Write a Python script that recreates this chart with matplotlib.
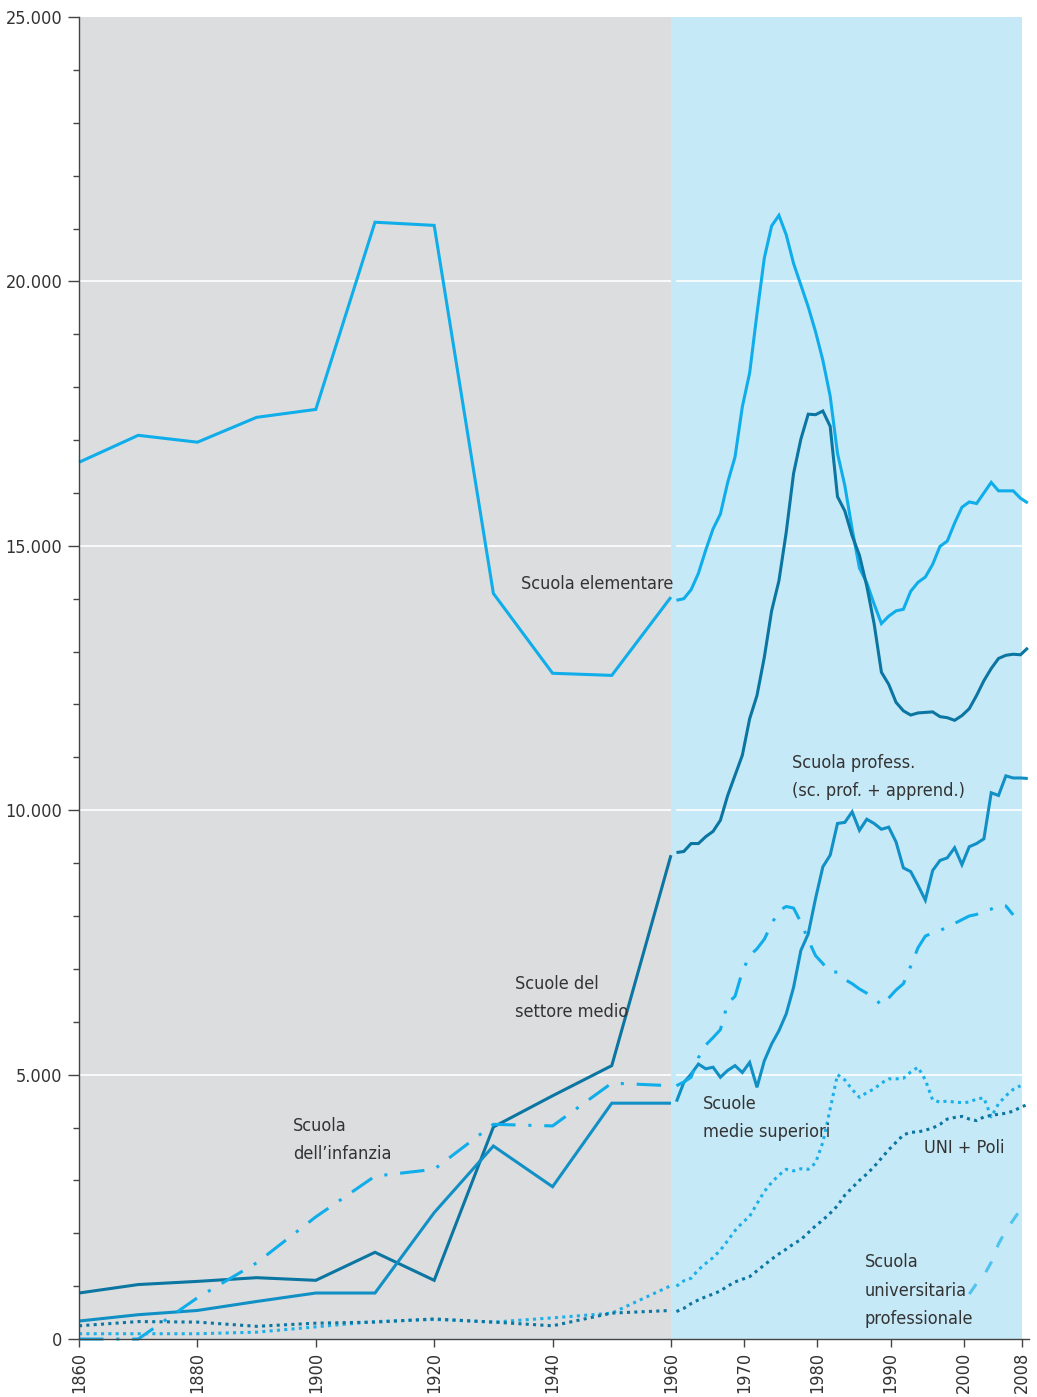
import numpy as np
import matplotlib.pyplot as plt
import matplotlib.font_manager as fm
from matplotlib.ticker import FixedLocator, FuncFormatter

# --- data -------------------------------------------------------------
# historic part: one value every ten years
YEARS_HIST = [1860, 1870, 1880, 1890, 1900, 1910, 1920, 1930, 1940, 1950, 1960]

elem_hist = [16580, 17090, 16960, 17430, 17580, 21120, 21060, 14100, 12590, 12550, 14030]
medio_hist = [870, 1030, 1090, 1160, 1110, 1640, 1110, 4010, 4600, 5170, 9150]
prof_hist = [340, 460, 540, 710, 870, 870, 2390, 3650, 2880, 4460, 4460]
infanzia_hist = [0, 0, 780, 1440, 2310, 3080, 3210, 4060, 4030, 4840, 4790]
medsup_hist = [100, 100, 100, 130, 230, 330, 370, 320, 400, 490, 1010]
uni_hist = [250, 330, 320, 240, 300, 320, 380, 320, 250, 490, 540]

# recent part: yearly values 1960-2008
YEARS_RECENT = list(range(1960, 2009))

elem_recent = [13970, 14000, 14170, 14480, 14920, 15320, 15600, 16200, 16680, 17630,
               18270, 19390, 20440, 21050, 21250, 20880, 20340, 19930, 19520, 19050,
               18510, 17830, 16750, 16140, 15320, 14580, 14300, 13900, 13530, 13670,
               13770, 13800, 14140, 14310, 14410, 14650, 14990, 15090, 15430, 15730,
               15830, 15800, 16000, 16200, 16040, 16040, 16040, 15900, 15810]
medio_recent = [9200, 9220, 9370, 9370, 9500, 9600, 9810, 10280, 10660, 11040,
                11730, 12170, 12890, 13770, 14340, 15260, 16370, 17020, 17490, 17480,
                17550, 17260, 15930, 15660, 15190, 14820, 14240, 13530, 12610, 12380,
                12040, 11880, 11800, 11840, 11850, 11860, 11770, 11750, 11700, 11790,
                11920, 12170, 12450, 12680, 12870, 12930, 12950, 12940, 13070]
prof_recent = [4490, 4850, 5010, 5200, 5110, 5140, 4950, 5080, 5170, 5040,
               5230, 4760, 5260, 5580, 5830, 6150, 6650, 7350, 7660, 8330,
               8930, 9150, 9750, 9770, 9970, 9620, 9830, 9750, 9640, 9680,
               9400, 8910, 8840, 8580, 8300, 8860, 9050, 9100, 9290, 8970,
               9310, 9370, 9460, 10330, 10280, 10650, 10610, 10610, 10600]
infanzia_recent = [4790, 4860, 4950, 5320, 5560, 5700, 5850, 6350, 6480, 6950,
                   7250, 7380, 7560, 7850, 8100, 8180, 8150, 7880, 7550, 7250,
                   7100, 6940, 6940, 6800, 6720, 6620, 6540, 6460, 6310, 6450,
                   6600, 6720, 7050, 7400, 7620, 7680, 7720, 7800, 7860, 7930,
                   8000, 8030, 8100, 8130, 8200, 8190, 8020]
medsup_recent = [1000, 1100, 1150, 1310, 1430, 1540, 1680, 1860, 2050, 2200,
                 2320, 2560, 2790, 2960, 3100, 3210, 3180, 3220, 3210, 3330,
                 3720, 4350, 5000, 4900, 4720, 4570, 4660, 4730, 4840, 4920,
                 4920, 4930, 5050, 5140, 4900, 4520, 4480, 4500, 4480, 4470,
                 4480, 4540, 4560, 4200, 4450, 4600, 4720, 4790]
uni_recent = [520, 580, 670, 740, 800, 850, 910, 1000, 1080, 1130,
              1180, 1290, 1400, 1510, 1610, 1700, 1800, 1880, 2010, 2140,
              2250, 2380, 2520, 2720, 2860, 3000, 3120, 3260, 3420, 3580,
              3720, 3860, 3910, 3915, 3950, 3990, 4060, 4160, 4190, 4210,
              4160, 4130, 4200, 4230, 4250, 4270, 4310, 4380, 4440]
YEARS_SUP = list(range(2000, 2008))
sup_recent = [850, 1050, 1200, 1450, 1800, 2050, 2250, 2450]

X_TICKS = [1860, 1880, 1900, 1920, 1940, 1960, 1970, 1980, 1990, 2000, 2008]

# --- style ------------------------------------------------------------
C_LIGHT = '#0fadea'
C_MED = '#1190c5'
C_DARK = '#0a76a1'
C_DOT_LIGHT = '#1cb0e8'
C_SUP = '#4fc3ef'
BG_HIST = '#dcdddf'
BG_RECENT = '#c6e9f8'
TXT = '#333333'
LW = 2.2
OFFSET = 0.75  # yearly values are drawn a bit right of the 1960 break


# a narrow face if one is installed (original uses a condensed grotesque)
def pick_font():
    cands = []
    for f in fm.fontManager.ttflist:
        n = f.name
        if 'Narrow' in n or 'Condensed' in n or f.stretch in ('condensed', 'semi-condensed'):
            if 'Bold' in f.fname or 'Oblique' in f.fname or 'Italic' in f.fname:
                continue
            if f.weight not in (400, 'normal', 'regular', 300, 'light'):
                continue
            cands.append(f)
    if cands:
        cands.sort(key=lambda f: (0 if 'Liberation' in f.name else 1, f.fname))
        return fm.FontProperties(fname=cands[0].fname)
    return fm.FontProperties(family='Roboto')

FP = pick_font()


# broken time axis: 1860-1960 compressed, 1960-2008 stretched
K = 1.2366
def fwd(x):
    x = np.asarray(x, dtype=float)
    return np.where(x <= 1960, x - 1860, 100 + (x - 1960) * K)

def inv(u):
    u = np.asarray(u, dtype=float)
    return np.where(u <= 100, u + 1860, 1960 + (u - 100) / K)


fig = plt.figure(figsize=(10.37, 13.97), dpi=100)
ax = fig.add_axes([0.0762, 0.0415, 0.916, 0.9463])
ax.set_xscale('function', functions=(fwd, inv))
ax.set_xlim(1860, 2008.9)
ax.set_ylim(0, 25000)

ax.axvspan(1860, 1960, color=BG_HIST, lw=0, zorder=0)
ax.axvspan(1960, 2008, color=BG_RECENT, lw=0, zorder=0)
for yv in [5000, 10000, 15000, 20000]:
    ax.hlines(yv, 1860, 1960, color='white', lw=1.2, zorder=1)
    ax.hlines(yv, 1960.7, 2008, color='white', lw=1.2, zorder=1)

yr_r = np.array(YEARS_RECENT) + OFFSET

def draw(xh, yh, xr, yr, color, dashes=None, lw=LW):
    for xx, yy in [(xh, yh), (xr, yr)]:
        ln, = ax.plot(xx, yy, color=color, lw=lw, zorder=3, clip_on=False,
                      solid_joinstyle='miter', solid_capstyle='butt')
        if dashes is not None:
            ln.set_dashes(dashes)

draw(YEARS_HIST, elem_hist, yr_r, elem_recent, C_LIGHT)
draw(YEARS_HIST, medio_hist, yr_r, medio_recent, C_DARK)
draw(YEARS_HIST, prof_hist, yr_r, prof_recent, C_MED)
draw(YEARS_HIST, infanzia_hist, yr_r[:len(infanzia_recent)], infanzia_recent,
     C_LIGHT, dashes=(8, 4.2, 1, 4.2))
draw(YEARS_HIST, medsup_hist, yr_r[:len(medsup_recent)], medsup_recent,
     C_DOT_LIGHT, dashes=(1, 1.4))
draw(YEARS_HIST, uni_hist, yr_r, uni_recent, C_DARK, dashes=(1, 1.4))
ln, = ax.plot(np.array(YEARS_SUP) + OFFSET, sup_recent, color=C_SUP, lw=LW, zorder=3)
ln.set_dashes((4, 5))

# labels
lab = dict(color=TXT, fontproperties=FP, va='center', ha='left', linespacing=1.75, zorder=4)
def label(x, y, s):
    t = ax.text(x, y, s, **lab)
    t.set_fontsize(13)

label(1934.7, 14280, 'Scuola elementare')
label(1933.7, 6450, 'Scuole del\nsettore medio')
label(1896.1, 3760, 'Scuola\ndell\u2019infanzia')
label(1976.6, 10630, 'Scuola profess.\n(sc. prof. + apprend.)')
label(1964.4, 4180, 'Scuole\nmedie superiori')
label(1994.5, 3610, 'UNI + Poli')
label(1986.5, 910, 'Scuola\nuniversitaria\nprofessionale')

# axes
for s in ['top', 'right']:
    ax.spines[s].set_visible(False)
for s in ['left', 'bottom']:
    ax.spines[s].set_color('#444444')
    ax.spines[s].set_linewidth(1.0)
    ax.spines[s].set_zorder(5)

ax.yaxis.set_major_locator(FixedLocator(range(0, 25001, 5000)))
ax.yaxis.set_minor_locator(FixedLocator(range(0, 25001, 1000)))
ax.yaxis.set_major_formatter(FuncFormatter(lambda v, p: f'{int(v):,}'.replace(',', '.')))
ax.tick_params(axis='y', which='major', length=8, width=1, color='#444444',
               labelcolor=TXT, pad=4)
ax.tick_params(axis='y', which='minor', length=4, width=1, color='#444444')

ax.xaxis.set_major_locator(FixedLocator(X_TICKS))
ax.xaxis.set_minor_locator(FixedLocator([]))
ax.set_xticklabels([str(t) for t in X_TICKS], rotation=90)
ax.tick_params(axis='x', which='major', length=6, width=1, color='#444444',
               labelcolor=TXT, pad=3)
for t in ax.get_xticklabels() + ax.get_yticklabels():
    t.set_fontproperties(FP)
    t.set_fontsize(13)

fig.savefig('out.png', dpi=100)
